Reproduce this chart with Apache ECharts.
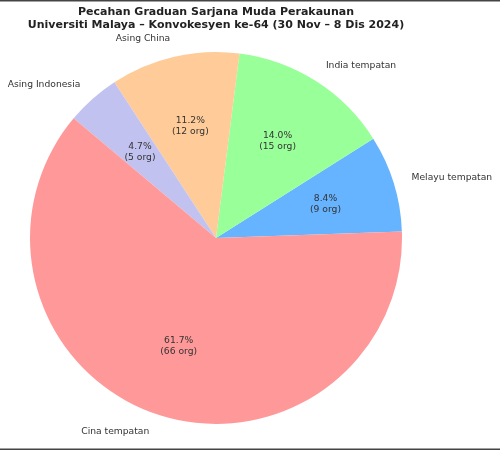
<!DOCTYPE html>
<html>
<head>
<meta charset="utf-8">
<script src="https://cdn.jsdelivr.net/npm/echarts@6/dist/echarts.min.js"></script>
<style>html,body{margin:0;padding:0;background:#fff}#c{width:500px;height:450px}</style>
</head>
<body>
<div id="c"></div>
<script>
const categories = ['Melayu tempatan', 'India tempatan', 'Asing China', 'Asing Indonesia', 'Cina tempatan'];
const values = [9, 15, 12, 5, 66];
const colors = ['#66b3ff', '#99ff99', '#ffcc99', '#c2c2f0', '#ff9999'];
const titleLines = ['Pecahan Graduan Sarjana Muda Perakaunan', 'Universiti Malaya – Konvokesyen ke-64 (30 Nov – 8 Dis 2024)'];

const total = values.reduce((a, b) => a + b, 0);
const FONT = 'DejaVu Sans';
const cx = 216, cy = 238, R = 186;

const data = categories.map((n, i) => ({ name: n, value: values[i], itemStyle: { color: colors[i] } }));
const chart = echarts.init(document.getElementById('c'), null, { renderer: 'canvas' });
chart.setOption({
  animation: false,
  backgroundColor: '#fff',
  title: {
    text: titleLines.join('\n'),
    left: cx, top: 6, textAlign: 'center', padding: 0,
    textStyle: { fontFamily: FONT, fontWeight: 'bold', fontSize: 11, lineHeight: 12.5, color: '#222' }
  },
  series: [
    {
      type: 'pie', center: [cx, cy], radius: [0, R],
      startAngle: 2, clockwise: false, avoidLabelOverlap: false,
      data: data,
      label: {
        show: true, position: 'outside', formatter: '{b}',
        fontFamily: FONT, fontSize: 9.2, color: '#333', distanceToLabelLine: 0
      },
      labelLine: { show: false, length: R * 0.1, length2: 0 },
      emphasis: { disabled: true }
    },
    {
      type: 'pie', center: [cx, cy], radius: [0, R * 1.2],
      startAngle: 2, clockwise: false, avoidLabelOverlap: false, silent: true,
      data: categories.map((n, i) => ({ name: n, value: values[i] })),
      itemStyle: { color: 'rgba(0,0,0,0)' },
      label: {
        show: true, position: 'inside',
        formatter: p => (p.value / total * 100).toFixed(1) + '%\n(' + p.value + ' org)',
        fontFamily: FONT, fontSize: 9.2, lineHeight: 11.5, color: '#333', align: 'center'
      },
      labelLine: { show: false },
      emphasis: { disabled: true }
    }
  ],
  graphic: [
    { type: 'rect', shape: { x: 0, y: 0, width: 500, height: 1.5 }, style: { fill: '#444' } },
    { type: 'rect', shape: { x: 0, y: 448.5, width: 500, height: 1.5 }, style: { fill: '#444' } }
  ]
});
</script>
</body>
</html>
